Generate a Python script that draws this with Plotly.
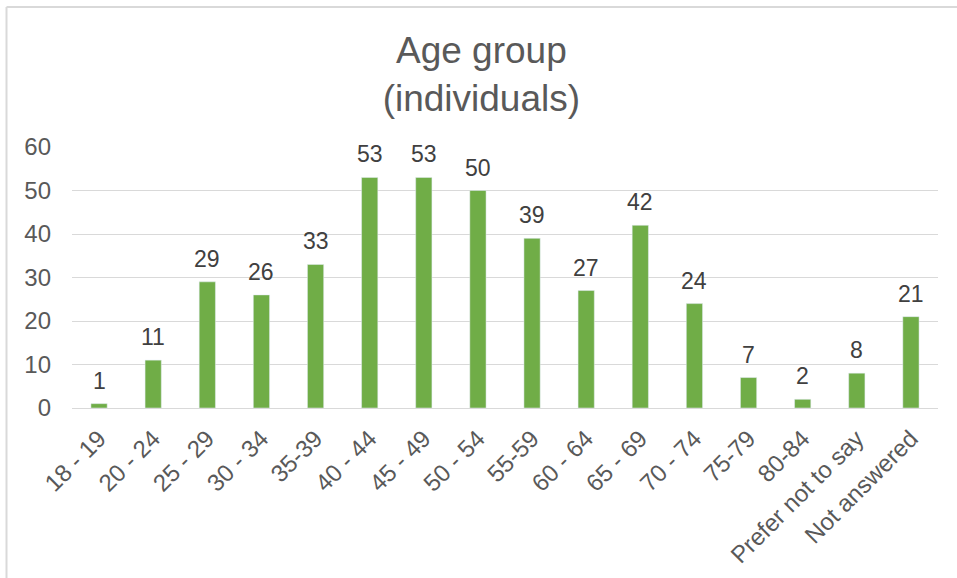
import plotly.graph_objects as go

categories = ["18 - 19", "20 - 24", "25 - 29", "30 - 34", "35-39", "40 - 44", "45 - 49",
              "50 - 54", "55-59", "60 - 64", "65 - 69", "70 - 74", "75-79", "80-84",
              "Prefer not to say", "Not answered"]
values = [1, 11, 29, 26, 33, 53, 53, 50, 39, 27, 42, 24, 7, 2, 8, 21]

W, H = 957, 578
L, R, T, B = 72, 19, 147, 170
pw, ph = W - L - R, H - T - B

fig = go.Figure(go.Bar(
    x=categories, y=values, marker_color="#70AD47",
))

for c, v in zip(categories, values):
    fig.add_annotation(x=c, y=v, text=str(v), showarrow=False, yanchor="bottom",
                       yshift=8, font=dict(size=23, color="#404040", family="Liberation Sans"))

def px_x(p):
    return (p - L) / pw

def px_y(p):
    return (H - B - p) / ph

bx, by = px_x(6.5), px_y(7)
fig.add_shape(type="line", xref="paper", yref="paper", x0=bx, y0=by, x1=px_x(W + 5), y1=by,
              line=dict(color="#D9D9D9", width=2))
fig.add_shape(type="line", xref="paper", yref="paper", x0=bx, y0=by, x1=bx, y1=px_y(H + 5),
              line=dict(color="#D9D9D9", width=2))

fig.update_layout(
    width=W, height=H,
    margin=dict(l=L, r=R, t=T, b=B, autoexpand=False),
    paper_bgcolor="white", plot_bgcolor="white",
    font=dict(family="Liberation Sans", color="#595959"),
    title=dict(text="Age group<br>(individuals)", x=0.503, xanchor="center",
               y=1 - 63 / H, yanchor="middle",
               font=dict(size=37, color="#595959", family="Liberation Sans")),
    bargap=0.7,
    showlegend=False,
    xaxis=dict(tickangle=-45, tickfont=dict(size=24, color="#595959"),
               showline=True, linecolor="#D9D9D9", linewidth=1, ticks="",
               ticklabelstandoff=6, automargin=False),
    yaxis=dict(range=[0, 60], dtick=10, tickfont=dict(size=24, color="#595959"),
               gridcolor="#D9D9D9", gridwidth=1, zeroline=False, ticks="",
               ticklabelstandoff=20, automargin=False),
)

fig.write_html("out.html")
